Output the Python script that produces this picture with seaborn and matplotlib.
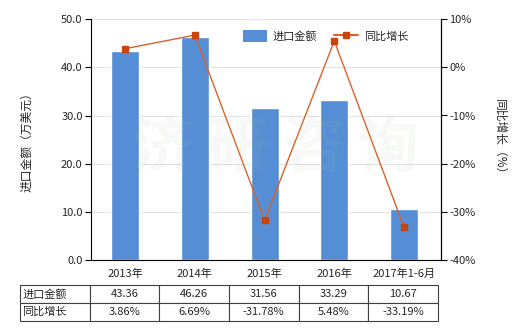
import matplotlib
matplotlib.use("Agg")
import matplotlib.pyplot as plt
from matplotlib.patches import Patch
from matplotlib.lines import Line2D
import seaborn as sns
import numpy as np
import pandas as pd

categories = ["2013年", "2014年", "2015年", "2016年", "2017年1-6月"]
import_values = [43.36, 46.26, 31.56, 33.29, 10.67]
growth_pct = [3.86, 6.69, -31.78, 5.48, -33.19]
left_ticks = [0, 10, 20, 30, 40, 50]
right_ticks = [-40, -30, -20, -10, 0, 10]
series_names = ["进口金额", "同比增长"]

sns.set_theme(style="white")
plt.rcParams['font.family'] = ['Noto Sans CJK SC', 'DejaVu Sans']
plt.rcParams['axes.unicode_minus'] = False

bar_color = "#558ed5"
line_color = "#d9622b"
marker_color = "#c8460e"

fig = plt.figure(figsize=(5.2, 3.3), dpi=100)
ax = fig.add_axes([0.175, 0.212, 0.673, 0.730])

df = pd.DataFrame({"cat": categories, "val": import_values})
sns.barplot(data=df, x="cat", y="val", ax=ax, color=bar_color, width=0.4,
            saturation=1)
ax.set_xlim(-0.49, 4.53)
ax.set_ylim(0, 50)
ax.set_yticks(left_ticks)
ax.set_yticklabels([f"{v:.1f}" for v in left_ticks], fontsize=8)
ax.set_xticks(range(len(categories)))
ax.set_xticklabels(categories, fontsize=8)
ax.set_xlabel("")
ax.set_ylabel("进口金额（万美元）", fontsize=8.5, labelpad=20)
ax.yaxis.grid(True, color="#e3e3e3", linewidth=0.8)
ax.set_axisbelow(True)
ax.spines["top"].set_visible(False)
for s in ["left", "bottom", "right"]:
    ax.spines[s].set_color("black")
    ax.spines[s].set_linewidth(0.8)
ax.tick_params(axis="both", direction="out", length=4, width=0.8, color="black", pad=2)

ax2 = ax.twinx()
ax2.plot(np.arange(len(categories)), growth_pct, color=line_color, linewidth=1,
         marker="s", markersize=5, markerfacecolor=marker_color,
         markeredgecolor=marker_color)
ax2.set_ylim(-40, 10)
ax2.set_yticks(right_ticks)
ax2.set_yticklabels([f"{v}%" for v in right_ticks], fontsize=8)
ax2.set_ylabel("同比增长（%）", fontsize=8.5, rotation=270, labelpad=22)
for s in ["top", "left", "bottom"]:
    ax2.spines[s].set_visible(False)
ax2.spines["right"].set_color("black")
ax2.spines["right"].set_linewidth(0.8)
ax2.tick_params(axis="y", direction="out", length=4, width=0.8, color="black", pad=2)

# watermark
fig.text(0.53, 0.55, "济 研 咨 询", fontsize=44, color="#b0c0b0", alpha=0.09,
         ha="center", va="center", fontweight="bold")

handles = [Patch(facecolor=bar_color, edgecolor="none"),
           Line2D([0], [0], color=line_color, linewidth=1.5, marker="s", markersize=4,
                  markerfacecolor=marker_color, markeredgecolor=marker_color)]
ax2.legend(handles, series_names, loc="upper right", bbox_to_anchor=(0.92, 0.975), ncol=2,
           frameon=False, fontsize=8, handlelength=2.2, handleheight=1.4,
           columnspacing=1.5, handletextpad=0.5, borderaxespad=0)

# table
row_vals = [[f"{v:.2f}" for v in import_values], [f"{v:.2f}%" for v in growth_pct]]
cell_text = [[series_names[0]] + row_vals[0], [series_names[1]] + row_vals[1]]
tbl = ax.table(cellText=cell_text, bbox=[-0.203, -0.253, 1.194, 0.149],
               cellLoc="center")
tbl.auto_set_font_size(False)
tbl.set_fontsize(8)
for (r, c), cell in tbl.get_celld().items():
    cell.set_edgecolor("#404040")
    cell.set_linewidth(0.8)
    if c == 0:
        cell.set_text_props(ha="left")
        cell._loc = "left"
        cell.PAD = 0.03

fig.savefig("out.png", dpi=100)
